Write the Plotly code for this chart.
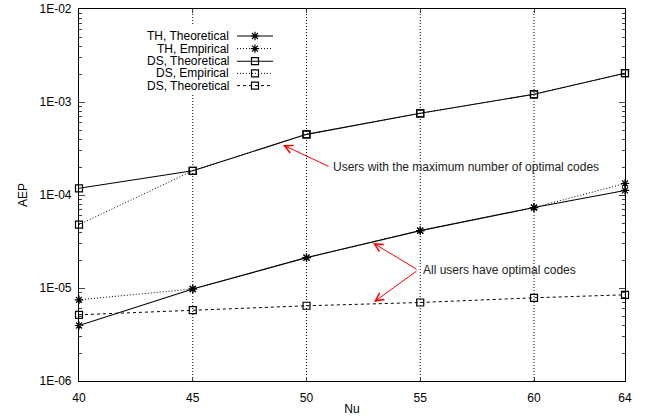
import math
import plotly.graph_objects as go

nu = [40, 45, 50, 55, 60, 64]
th_theoretical = [3.95e-6, 9.75e-6, 2.12e-5, 4.14e-5, 7.33e-5, 1.12e-4]
th_empirical = [7.47e-6, 9.75e-6, 2.12e-5, 4.14e-5, 7.33e-5, 1.33e-4]
ds_theoretical = [1.18e-4, 1.82e-4, 4.49e-4, 7.56e-4, 1.21e-3, 2.04e-3]
ds_empirical = [4.8e-5, 1.82e-4, 4.49e-4, 7.56e-4, 1.21e-3, 2.04e-3]
ds_theoretical_all = [5.15e-6, 5.78e-6, 6.44e-6, 6.98e-6, 7.85e-6, 8.45e-6]

series_names = ["TH, Theoretical", "TH, Empirical", "DS, Theoretical",
                "DS, Empirical", "DS, Theoretical"]
series_values = [th_theoretical, th_empirical, ds_theoretical, ds_empirical,
                 ds_theoretical_all]
DOT = "1px,2px"
series_dash = ["solid", DOT, "solid", DOT, "3px,3px"]
series_symbol = ["asterisk-open", "asterisk-open", "square-open", "square-open",
                 "square-open"]

y_tickvals = [1e-6, 1e-5, 1e-4, 1e-3, 1e-2]
y_ticktext = ["1E-06", "1E-05", "1E-04", "1E-03", "1E-02"]

FONT = "Liberation Sans, Arial, sans-serif"
FS = 12

fig = go.Figure()
for name, vals, dash, sym in zip(series_names, series_values, series_dash, series_symbol):
    fig.add_trace(go.Scatter(
        x=nu, y=vals, mode="lines+markers", name=name, showlegend=False,
        line=dict(color="black", width=1.1 if dash == "solid" else 1, dash=dash),
        marker=dict(symbol=sym, size=7, color="black",
                    line=dict(color="black", width=1.2)),
        cliponaxis=False,
    ))

L, R, T, B = 79, 625, 9, 381
W, H = R - L, B - T
def px(xp): return (xp - L) / W
def py(yp): return 1 - (yp - T) / H

row_y = [36, 48.6, 61.2, 73.4, 85.6]
shapes = []
for xv in nu[1:-1]:
    shapes.append(dict(type="line", xref="x", yref="paper", x0=xv, x1=xv, y0=0, y1=1,
                       line=dict(color="black", width=1, dash=DOT), layer="below"))
for yv in y_tickvals[1:-1]:
    shapes.append(dict(type="line", xref="paper", yref="y", x0=0, x1=1,
                       y0=math.log10(yv), y1=math.log10(yv),
                       line=dict(color="black", width=1, dash=DOT), layer="below"))
shapes.append(dict(type="rect", xref="paper", yref="paper",
                   x0=px(140), x1=px(281), y0=py(95), y1=py(26),
                   fillcolor="white", line=dict(width=0), layer="below"))

annotations = []
for i, (name, dash, sym) in enumerate(zip(series_names, series_dash, series_symbol)):
    yy = py(row_y[i])
    annotations.append(dict(xref="paper", yref="paper", x=px(230), y=yy,
                            text=name, showarrow=False, xanchor="right", yanchor="middle",
                            borderpad=0,
                            font=dict(family=FONT, size=FS, color="black")))
    fig.add_trace(go.Scatter(
        x=[px(237), px(255), px(273)], y=[yy, yy, yy], xaxis="x2", yaxis="y2",
        mode="lines", showlegend=False, hoverinfo="skip",
        line=dict(color="black", width=1.1 if dash == "solid" else 1, dash=dash)))
    fig.add_trace(go.Scatter(
        x=[px(255)], y=[yy], xaxis="x2", yaxis="y2", mode="markers",
        showlegend=False, hoverinfo="skip",
        marker=dict(symbol=sym, size=7, color="black", line=dict(color="black", width=1.2))))

red = "#ff0000"
arrows = [((283, 145), (330, 167)), ((373, 243), (418, 270)), ((374, 302), (418, 270))]
for (hx, hy), (tx, ty) in arrows:
    annotations.append(dict(xref="paper", yref="paper", x=px(hx), y=py(hy),
                            ax=tx - hx, ay=ty - hy, text="", showarrow=True,
                            arrowhead=5, arrowsize=1.6, arrowwidth=1, arrowcolor=red,
                            standoff=0, startstandoff=0))
annotations.append(dict(xref="paper", yref="paper", x=px(331), y=py(167),
                        text="Users with the maximum number of optimal codes",
                        showarrow=False, xanchor="left", yanchor="middle",
                        font=dict(family=FONT, size=FS, color="#222")))
annotations.append(dict(xref="paper", yref="paper", x=px(421), y=py(270),
                        text="All users have optimal codes",
                        showarrow=False, xanchor="left", yanchor="middle",
                        font=dict(family=FONT, size=FS, color="#222")))

fig.update_layout(
    width=645, height=416,
    margin=dict(l=L, r=645 - R, t=T, b=416 - B, autoexpand=False),
    paper_bgcolor="white", plot_bgcolor="white",
    font=dict(family=FONT, size=FS, color="black"),
    showlegend=False,
    shapes=shapes, annotations=annotations,
    xaxis=dict(range=[40, 64], tickvals=nu, ticktext=[str(v) for v in nu],
               showgrid=False, zeroline=False, ticks="inside", ticklen=4,
               showline=True, linecolor="black", linewidth=1.2, mirror="ticks",
               ticklabelstandoff=5, automargin=False,
               title=dict(text="Nu", standoff=4, font=dict(size=FS))),
    yaxis=dict(type="log", range=[-6, -2], tickvals=y_tickvals, ticktext=y_ticktext,
               showgrid=False, zeroline=False, ticks="inside", ticklen=6,
               showline=True, linecolor="black", linewidth=1.2, mirror="ticks",
               minor=dict(ticks="inside", ticklen=3, dtick="D1", showgrid=False),
               ticklabelstandoff=4, automargin=False,
               title=dict(text="AEP", standoff=9, font=dict(size=FS))),
    xaxis2=dict(overlaying="x", range=[0, 1], visible=False, fixedrange=True),
    yaxis2=dict(overlaying="y", range=[0, 1], visible=False, fixedrange=True),
)

fig.write_html("out.html", config={"displayModeBar": False},
               post_script="document.body.style.margin='0';document.body.style.padding='0';")
